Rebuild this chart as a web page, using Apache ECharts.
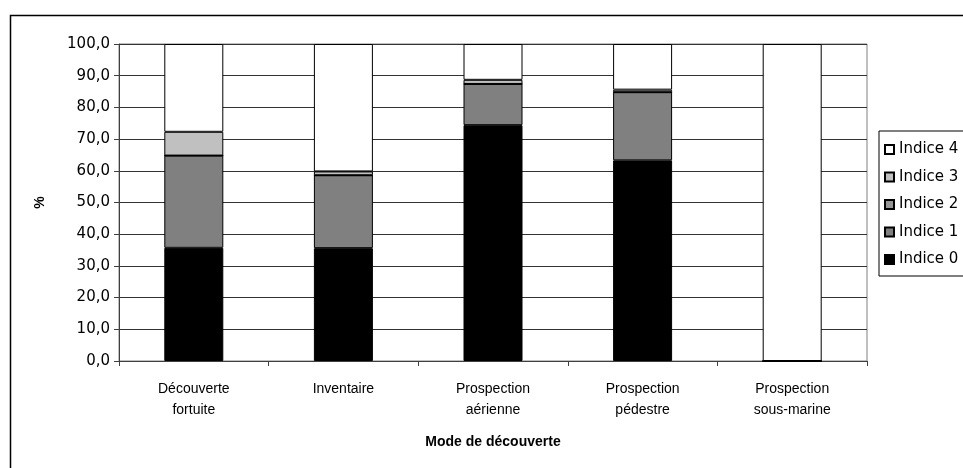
<!DOCTYPE html>
<html><head><meta charset="utf-8">
<script src="https://cdn.jsdelivr.net/npm/echarts@6/dist/echarts.min.js"></script>
<style>html,body{margin:0;padding:0;background:#fff}#c{width:963px;height:468px}</style>
</head><body><div id="c"></div>
<script>
const categories = ['Découverte\nfortuite','Inventaire','Prospection\naérienne','Prospection\npédestre','Prospection\nsous-marine'];
const seriesNames = ['Indice 0','Indice 1','Indice 2','Indice 3','Indice 4'];
const indice0 = [35.7, 35.6, 74.4, 63.3, 0];
const indice1 = [29.1, 23.0, 13.0, 21.5, 0];
const indice2 = [0, 0, 0, 0, 0];
const indice3 = [7.5, 1.2, 1.3, 0.8, 0];
const indice4 = [27.7, 40.2, 11.3, 14.4, 100];
const colors = ['#000000','#808080','#969696','#c0c0c0','#ffffff'];
const values = [indice0, indice1, indice2, indice3, indice4];
const font = 'Liberation Sans, Arial, sans-serif';
const wideFont = 'DejaVu Sans, Verdana, sans-serif';

const chart = echarts.init(document.getElementById('c'), null, {renderer:'canvas'});
chart.setOption({
  animation:false,
  backgroundColor:'#fff',
  graphic:[{type:'rect', shape:{x:10.5,y:15.5,width:1000,height:1000}, style:{fill:'none',stroke:'#000',lineWidth:1.5}, z:-1}],
  grid:{left:119, right:96, top:44, bottom:107, show:true, borderColor:'#808080', borderWidth:1},
  legend:{
    data:seriesNames.slice().reverse(),
    orient:'vertical', left:879, top:131,
    itemWidth:9, itemHeight:9, itemGap:12.5,
    borderColor:'#000', borderWidth:1, padding:[11,30,9,5],
    textStyle:{fontFamily:wideFont, fontSize:15, color:'#000'},
    icon:'rect'
  },
  xAxis:{
    type:'category', data:categories,
    axisLine:{lineStyle:{color:'#404040',width:1}},
    axisTick:{show:true, lineStyle:{color:'#404040'}, length:5},
    axisLabel:{fontFamily:font, fontSize:14, color:'#000', margin:18, lineHeight:21},
    name:'Mode de découverte', nameLocation:'middle', nameGap:74,
    nameTextStyle:{fontFamily:font, fontSize:14, fontWeight:'bold', color:'#000'}
  },
  yAxis:{
    type:'value', min:0, max:100, interval:10,
    axisLine:{show:true, lineStyle:{color:'#404040',width:1}},
    axisTick:{show:true, lineStyle:{color:'#404040'}, length:5},
    splitLine:{show:true, lineStyle:{color:'#333',width:1}},
    axisLabel:{fontFamily:wideFont, fontSize:15, color:'#000', margin:9,
      formatter:v=>v.toFixed(1).replace('.',',')},
    name:'%', nameLocation:'middle', nameGap:72, nameRotate:90,
    nameTextStyle:{fontFamily:font, fontSize:14, fontWeight:'bold', color:'#000'}
  },
  series: seriesNames.map((n,i)=>({
    name:n, type:'bar', stack:'s', barWidth:59,
    data:values[i],
    itemStyle:{color:colors[i], borderColor:'#000', borderWidth:1}
  }))
});
</script></body></html>
